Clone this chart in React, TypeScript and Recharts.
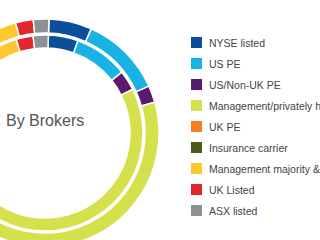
import { PieChart, Pie, Cell } from "recharts";

const categories = [
  "NYSE listed",
  "US PE",
  "US/Non-UK PE",
  "Management/privately held",
  "UK PE",
  "Insurance carrier",
  "Management majority & PE",
  "UK Listed",
  "ASX listed",
];

const colors = [
  "#0b4f9c",
  "#19b3e3",
  "#5a1a6d",
  "#d5e04d",
  "#f47f22",
  "#4a5c1c",
  "#fcc82e",
  "#e2262c",
  "#8d9094",
];

// share of deals, outer ring vs inner ring (%)
const outerValues = [6.1, 11.6, 2.4, 63.0, 3.3, 1.7, 7.2, 2.5, 2.2];
const innerValues = [4.9, 8.9, 3.3, 64.3, 2.8, 3.6, 6.9, 2.8, 2.5];

const centerLabel = "By Brokers";

const outerData = categories.map((name, i) => ({ name, value: outerValues[i] }));
const innerData = categories.map((name, i) => ({ name, value: innerValues[i] }));

const font = "'Liberation Sans', Arial, sans-serif";

export default function App() {
  return (
    <div
      style={{
        position: "fixed",
        left: 0,
        top: 0,
        width: 320,
        height: 240,
        overflow: "hidden",
        background: "#fff",
        fontFamily: font,
      }}
    >
      <PieChart width={320} height={240}>
        <Pie
          data={outerData}
          dataKey="value"
          cx={40}
          cy={128}
          innerRadius={100}
          outerRadius={114}
          startAngle={88}
          endAngle={-272}
          stroke="#fff"
          strokeWidth={1.5}
          isAnimationActive={false}
        >
          {outerData.map((d, i) => (
            <Cell key={d.name} fill={colors[i]} />
          ))}
        </Pie>
        <Pie
          data={innerData}
          dataKey="value"
          cx={40}
          cy={128}
          innerRadius={85}
          outerRadius={98}
          startAngle={88}
          endAngle={-272}
          stroke="#fff"
          strokeWidth={1.5}
          isAnimationActive={false}
        >
          {innerData.map((d, i) => (
            <Cell key={d.name} fill={colors[i]} />
          ))}
        </Pie>
        <text x={6} y={126} fill="#555" fontSize={16} fontFamily={font}>
          {centerLabel}
        </text>
      </PieChart>
      <div style={{ position: "absolute", left: 191, top: 32 }}>
        {categories.map((name, i) => (
          <div
            key={name}
            style={{
              display: "flex",
              alignItems: "center",
              height: 21,
              whiteSpace: "nowrap",
            }}
          >
            <span
              style={{
                width: 11,
                height: 11,
                background: colors[i],
                display: "inline-block",
                marginRight: 7,
              }}
            />
            <span style={{ fontSize: 10.5, color: "#444" }}>{name}</span>
          </div>
        ))}
      </div>
    </div>
  );
}
